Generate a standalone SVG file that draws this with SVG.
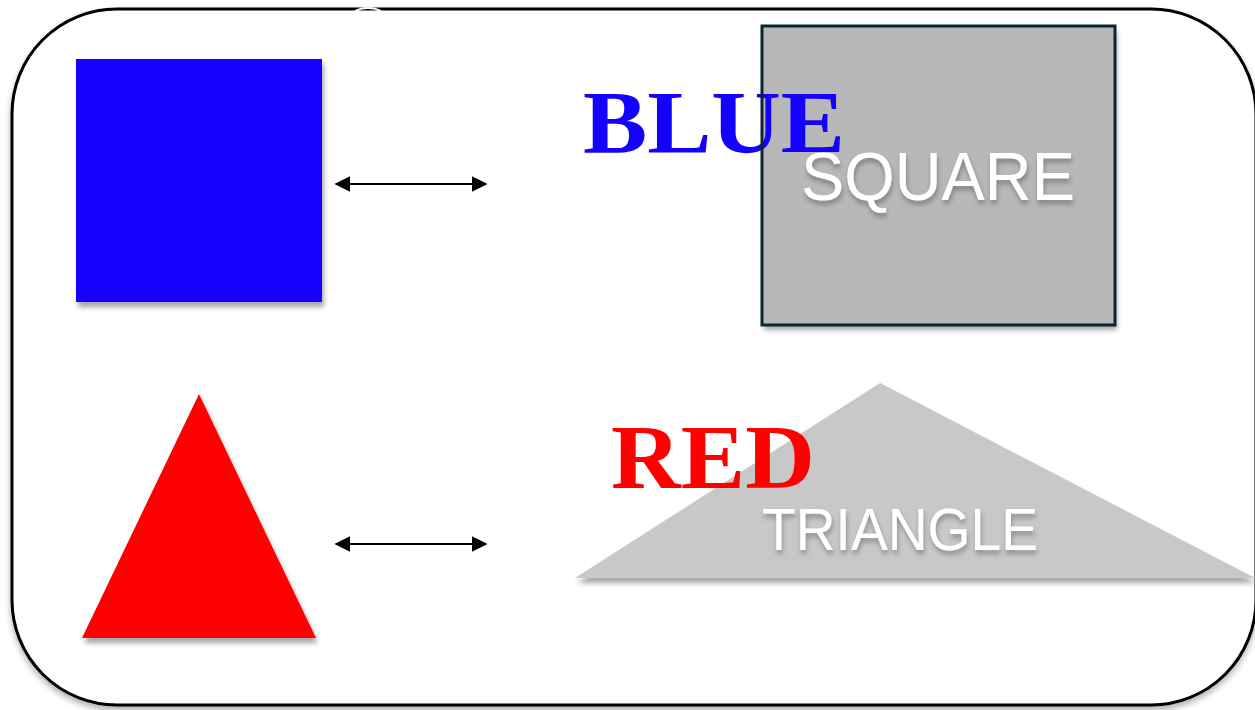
<svg xmlns="http://www.w3.org/2000/svg" width="1255" height="710" viewBox="0 0 1255 710">
<style>
.conn{stroke:#000;stroke-width:2;fill:none;marker-start:url(#ah);marker-end:url(#ah)}
.serif{font-family:"Liberation Serif","DejaVu Serif",serif;font-weight:bold}
.sans{font-family:"Liberation Sans",Arial,sans-serif;fill:#fff}
</style>
<defs>
<marker id="ah" viewBox="0 0 10 10" refX="9" refY="5" markerWidth="8" markerHeight="8" orient="auto-start-reverse" markerUnits="strokeWidth">
<path d="M0,0 L10,5 L0,10 Z" fill="#000"/>
</marker>
<filter id="sh" x="-10%" y="-10%" width="125%" height="130%">
<feDropShadow dx="2" dy="5" stdDeviation="2.5" flood-color="#000" flood-opacity="0.35"/>
</filter>
<filter id="shf" x="-5%" y="-5%" width="110%" height="115%">
<feDropShadow dx="0" dy="4" stdDeviation="3" flood-color="#000" flood-opacity="0.3"/>
</filter>
<filter id="tsh" x="-10%" y="-20%" width="120%" height="160%">
<feDropShadow dx="1" dy="4" stdDeviation="2.5" flood-color="#000" flood-opacity="0.3"/>
</filter>
</defs>
<rect width="1255" height="710" fill="#fff"/>
<g id="frame">
<rect x="12" y="9" width="1244" height="696" rx="105" ry="105" fill="#fff" stroke="#000" stroke-width="3" filter="url(#shf)"/>
<ellipse cx="368" cy="16" rx="16" ry="8" fill="none" stroke="#fff" stroke-width="2"/>
</g>
<g id="blue-square">
<rect x="76" y="59" width="246" height="243" fill="#1400ff" filter="url(#sh)"/>
</g>
<g id="red-triangle">
<polygon points="199,394 316,638 82,638" fill="#ff0000" filter="url(#sh)"/>
</g>
<g id="square-node">
<rect x="762" y="26" width="353" height="299" fill="#b8b8b8" filter="url(#sh)"/>
</g>
<g id="blue-label">
<text class="serif" x="583" y="152" font-size="88" fill="#1400ff" textLength="262" lengthAdjust="spacingAndGlyphs">BLUE</text>
</g>
<g id="square-node-border">
<rect x="762" y="26" width="353" height="299" fill="none" stroke="#0d2433" stroke-width="3"/>
<text class="sans" x="801" y="200" font-size="68" textLength="274" lengthAdjust="spacingAndGlyphs" filter="url(#tsh)">SQUARE</text>
</g>
<g id="triangle-node">
<polygon points="880,383 1255,578 575,578" fill="#c8c8c8" filter="url(#sh)"/>
<text class="sans" x="762" y="550" font-size="59" textLength="276" lengthAdjust="spacingAndGlyphs" filter="url(#tsh)">TRIANGLE</text>
</g>
<g id="red-label">
<text class="serif" x="611" y="488" font-size="90" fill="#ff0000" textLength="204" lengthAdjust="spacingAndGlyphs">RED</text>
</g>
<g id="connectors">
<line class="conn" x1="336" y1="184" x2="486" y2="184"/>
<line class="conn" x1="336" y1="544" x2="486" y2="544"/>
</g>
</svg>
